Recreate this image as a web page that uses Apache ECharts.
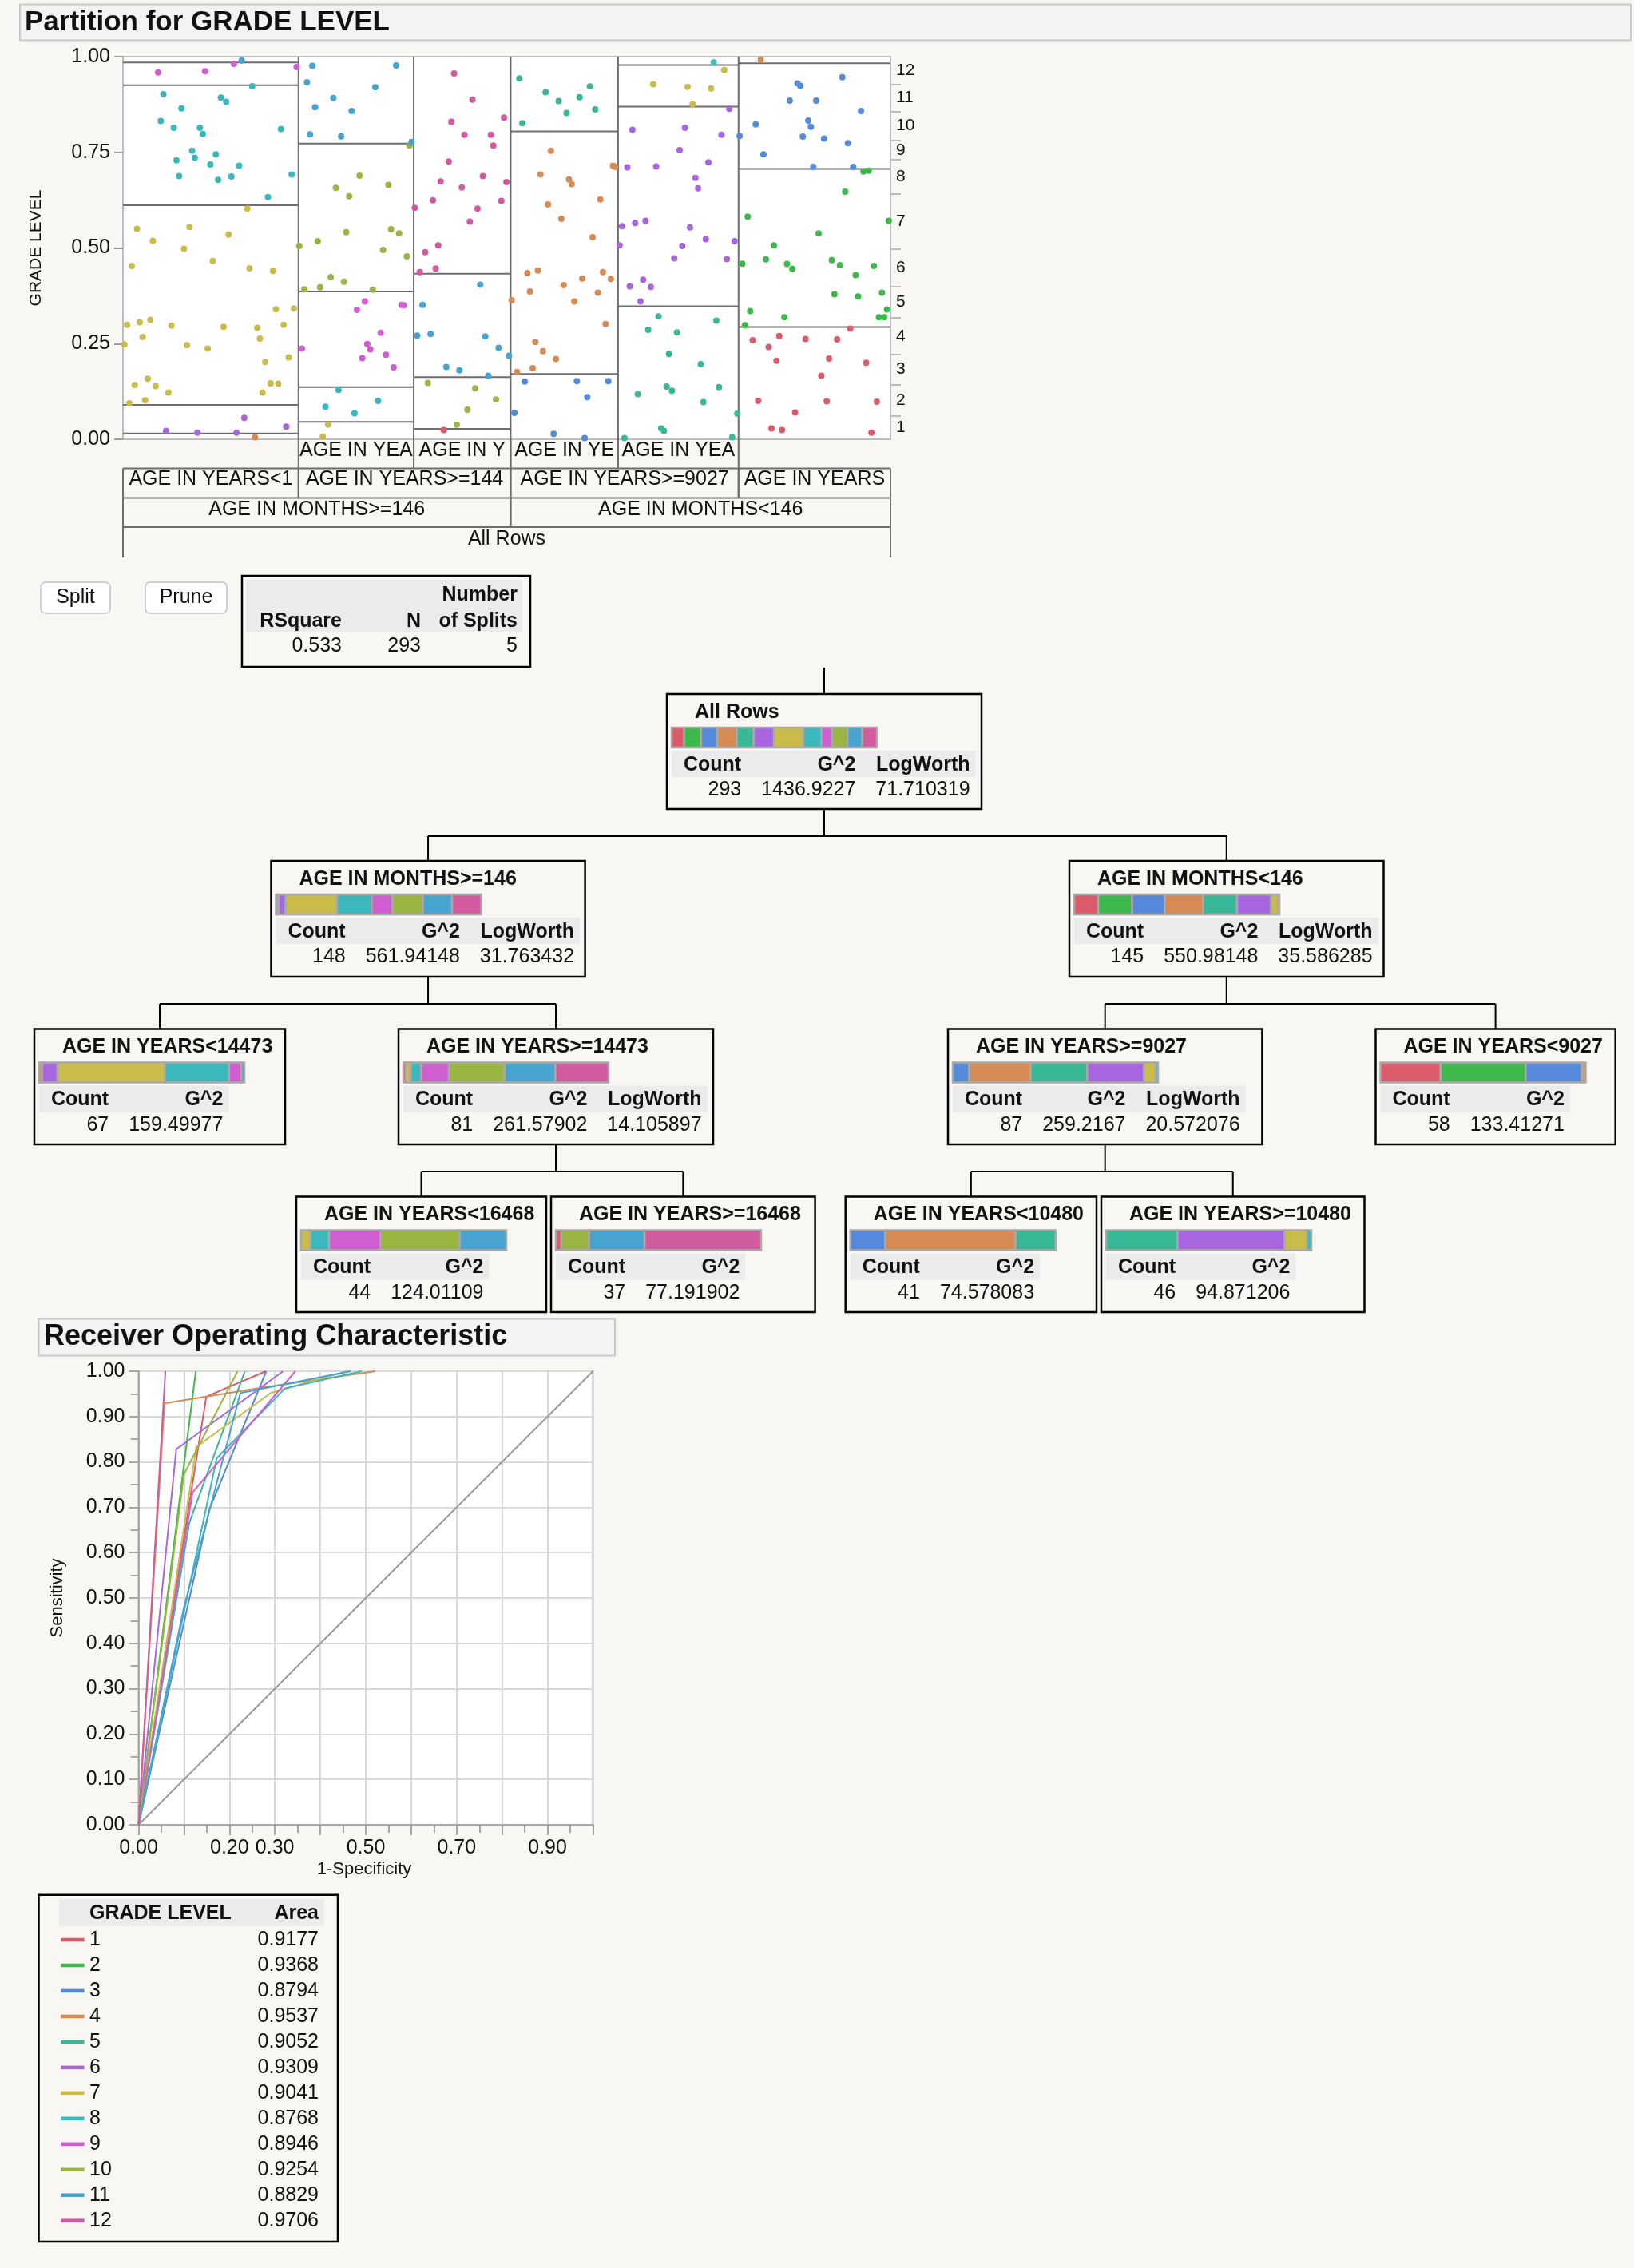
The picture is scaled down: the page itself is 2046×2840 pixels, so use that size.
<!DOCTYPE html>
<html><head><meta charset="utf-8">
<script src="https://cdn.jsdelivr.net/npm/echarts@6/dist/echarts.min.js"></script>
<style>html,body{margin:0;padding:0;background:#f8f7f3}#c{width:2046px;height:2840px}</style>
</head><body><div id="c"></div>
<script>
// ---------------- DATA ----------------
const gradeLabels = ['1','2','3','4','5','6','7','8','9','10','11','12'];
const gradeColors = ['#dc5b6b','#3cb94a','#5589dc','#d68b55','#39b898','#a766df','#c9bc4b','#3ab8bc','#cf5fd0','#9bb543','#47a3cf','#d25a9e'];

// leaves, left to right in the partition plot; counts per grade 1..12
const leafNames = ['AGE IN YEARS<14473','AGE IN YEARS<16468','AGE IN YEARS>=16468','AGE IN YEARS<10480','AGE IN YEARS>=10480','AGE IN YEARS<9027'];
const leaf1Counts = [0,0,0,1,0,5,35,21,4,0,1,0];
const leaf2Counts = [0,0,0,0,0,0,2,4,11,17,10,0];
const leaf3Counts = [1,0,0,0,0,0,0,0,0,5,10,21];
const leaf4Counts = [0,0,7,26,8,0,0,0,0,0,0,0];
const leaf5Counts = [0,0,0,0,16,24,5,1,0,0,0,0];
const leaf6Counts = [17,24,16,1,0,0,0,0,0,0,0,0];

// points: [grade, [[position across the leaf 0..1, GRADE LEVEL value], ...]]
const leaf1Points = [
 [11,[[0.676,0.990]]],
 [9,[[0.200,0.959],[0.468,0.962],[0.632,0.981],[0.989,0.973]]],
 [8,[[0.736,0.923],[0.230,0.902],[0.558,0.893],[0.588,0.882],[0.333,0.865],[0.215,0.832],[0.289,0.814],[0.438,0.814],[0.455,0.798],[0.900,0.811],[0.394,0.754],[0.409,0.736],[0.529,0.745],[0.305,0.729],[0.498,0.718],[0.662,0.715],[0.320,0.688],[0.542,0.678],[0.618,0.687],[0.961,0.692],[0.826,0.633]]],
 [7,[[0.708,0.603],[0.080,0.550],[0.379,0.555],[0.602,0.535],[0.170,0.519],[0.348,0.498],[0.050,0.453],[0.512,0.466],[0.721,0.447],[0.855,0.440],[0.871,0.340],[0.974,0.342],[0.023,0.299],[0.095,0.306],[0.156,0.312],[0.276,0.297],[0.573,0.294],[0.765,0.291],[0.915,0.299],[0.112,0.267],[0.008,0.248],[0.365,0.246],[0.483,0.237],[0.780,0.263],[0.944,0.214],[0.811,0.202],[0.067,0.142],[0.141,0.158],[0.186,0.139],[0.259,0.122],[0.795,0.122],[0.841,0.146],[0.885,0.145],[0.126,0.102],[0.036,0.094]]],
 [6,[[0.691,0.056],[0.930,0.033],[0.245,0.022],[0.424,0.017],[0.647,0.017]]],
 [4,[[0.752,0.005]]]
];
const leaf2Points = [
 [11,[[0.120,0.976],[0.847,0.977],[0.074,0.933],[0.667,0.920],[0.303,0.892],[0.144,0.868],[0.461,0.858],[0.100,0.797],[0.370,0.792],[0.981,0.777]]],
 [10,[[0.963,0.768],[0.530,0.689],[0.324,0.657],[0.780,0.665],[0.440,0.635],[0.414,0.541],[0.803,0.549],[0.873,0.538],[0.167,0.518],[0.007,0.505],[0.734,0.495],[0.940,0.478],[0.280,0.424],[0.394,0.412],[0.051,0.392],[0.188,0.397],[0.644,0.391]]],
 [9,[[0.576,0.360],[0.507,0.338],[0.894,0.351],[0.914,0.350],[0.713,0.278],[0.030,0.237],[0.597,0.249],[0.623,0.235],[0.759,0.221],[0.553,0.212],[0.826,0.188]]],
 [8,[[0.347,0.129],[0.234,0.085],[0.690,0.100],[0.486,0.068]]],
 [7,[[0.257,0.038],[0.211,0.007]]]
];
const leaf3Points = [
 [12,[[0.416,0.956],[0.606,0.888],[0.931,0.841],[0.388,0.830],[0.523,0.796],[0.796,0.796],[0.821,0.768],[0.361,0.726],[0.713,0.688],[0.278,0.674],[0.496,0.658],[0.956,0.672],[0.198,0.625],[0.011,0.605],[0.904,0.623],[0.658,0.603],[0.579,0.569],[0.253,0.507],[0.118,0.489],[0.226,0.446],[0.063,0.437]]],
 [11,[[0.686,0.404],[0.091,0.351],[0.036,0.271],[0.174,0.275],[0.738,0.269],[0.876,0.239],[0.983,0.218],[0.336,0.189],[0.471,0.180],[0.769,0.166]]],
 [10,[[0.146,0.147],[0.634,0.133],[0.848,0.104],[0.554,0.077],[0.444,0.038]]],
 [1,[[0.309,0.024]]]
];
const leaf4Points = [
 [5,[[0.081,0.943],[0.326,0.907],[0.447,0.884],[0.642,0.894],[0.738,0.922],[0.521,0.853],[0.788,0.862],[0.109,0.826]]],
 [4,[[0.375,0.754],[0.953,0.715],[0.973,0.712],[0.277,0.692],[0.543,0.679],[0.568,0.667],[0.835,0.627],[0.348,0.614],[0.472,0.576],[0.763,0.528],[0.156,0.434],[0.254,0.441],[0.859,0.437],[0.667,0.420],[0.933,0.419],[0.494,0.403],[0.180,0.386],[0.812,0.383],[0.010,0.363],[0.593,0.360],[0.884,0.301],[0.230,0.254],[0.301,0.230],[0.422,0.210],[0.205,0.186],[0.059,0.176]]],
 [3,[[0.131,0.151],[0.617,0.152],[0.909,0.152],[0.714,0.110],[0.035,0.069],[0.400,0.014],[0.689,0.003]]]
];
const leaf5Points = [
 [8,[[0.794,0.985]]],
 [7,[[0.881,0.965],[0.292,0.928],[0.577,0.921],[0.772,0.917],[0.619,0.876]]],
 [6,[[0.923,0.864],[0.119,0.809],[0.555,0.814],[0.858,0.796],[0.511,0.756],[0.077,0.711],[0.316,0.713],[0.750,0.724],[0.642,0.683],[0.664,0.656],[0.033,0.557],[0.142,0.565],[0.228,0.571],[0.597,0.554],[0.728,0.523],[0.967,0.518],[0.013,0.507],[0.533,0.505],[0.467,0.473],[0.903,0.471],[0.097,0.400],[0.208,0.417],[0.272,0.398],[0.186,0.360]]],
 [5,[[0.336,0.321],[0.816,0.310],[0.250,0.286],[0.489,0.279],[0.423,0.223],[0.686,0.196],[0.403,0.138],[0.447,0.127],[0.838,0.136],[0.164,0.118],[0.708,0.097],[0.989,0.067],[0.358,0.028],[0.381,0.022],[0.053,0.003],[0.947,0.005]]]
];
const leaf6Points = [
 [4,[[0.146,0.992]]],
 [3,[[0.683,0.946],[0.388,0.930],[0.407,0.924],[0.337,0.885],[0.511,0.885],[0.806,0.858],[0.113,0.823],[0.459,0.833],[0.476,0.817],[0.007,0.793],[0.423,0.791],[0.563,0.786],[0.720,0.774],[0.164,0.745],[0.492,0.712],[0.755,0.712]]],
 [2,[[0.822,0.700],[0.857,0.702],[0.702,0.647],[0.060,0.582],[0.989,0.571],[0.527,0.538],[0.233,0.507],[0.025,0.459],[0.180,0.470],[0.319,0.458],[0.354,0.445],[0.614,0.468],[0.667,0.455],[0.891,0.453],[0.771,0.429],[0.631,0.379],[0.787,0.373],[0.944,0.383],[0.076,0.335],[0.302,0.319],[0.924,0.319],[0.959,0.319],[0.977,0.339],[0.042,0.298]]],
 [1,[[0.735,0.289],[0.093,0.259],[0.268,0.270],[0.441,0.262],[0.649,0.261],[0.198,0.241],[0.596,0.211],[0.250,0.205],[0.840,0.200],[0.545,0.166],[0.129,0.100],[0.580,0.099],[0.910,0.098],[0.372,0.070],[0.217,0.028],[0.286,0.024],[0.875,0.017]]]
];

// split labels under the partition plot
const headerRow0 = ['AGE IN YEARS<16468','AGE IN YEARS>=16468','AGE IN YEARS<10480','AGE IN YEARS>=10480'];
const headerRow1 = ['AGE IN YEARS<14473','AGE IN YEARS>=14473','AGE IN YEARS>=9027','AGE IN YEARS<9027'];
const headerRow2 = ['AGE IN MONTHS>=146','AGE IN MONTHS<146'];
const headerRow3 = ['All Rows'];

// tree nodes
const nodeTitles = ['All Rows','AGE IN MONTHS>=146','AGE IN MONTHS<146','AGE IN YEARS<14473','AGE IN YEARS>=14473','AGE IN YEARS>=9027','AGE IN YEARS<9027','AGE IN YEARS<16468','AGE IN YEARS>=16468','AGE IN YEARS<10480','AGE IN YEARS>=10480'];
const nodeCounts = [293,148,145,67,81,87,58,44,37,41,46];
const nodeG2 = ['1436.9227','561.94148','550.98148','159.49977','261.57902','259.2167','133.41271','124.01109','77.191902','74.578083','94.871206'];
const nodeLogWorth = ['71.710319','31.763432','35.586285','','14.105897','20.572076','','','','',''];
const nodeLeaves = [[0,1,2,3,4,5],[0,1,2],[3,4,5],[0],[1,2],[3,4],[5],[1],[2],[3],[4]];
const nodeParent = [-1,0,0,1,1,2,2,4,4,5,5];

// fit summary
const summaryRSquare = '0.533';
const summaryN = '293';
const summarySplits = '5';

// ROC curves [1-Specificity, Sensitivity] per grade (up to where each reaches 1)
const rocCurves = [
 [[0,0],[0.149,0.944],[0.280,1]],
 [[0,0],[0.126,1]],
 [[0,0],[0.156,0.696],[0.281,1]],
 [[0,0],[0.057,0.929],[0.272,0.964],[0.521,1]],
 [[0,0],[0.112,0.667],[0.234,1]],
 [[0,0],[0.083,0.828],[0.318,1]],
 [[0,0],[0.127,0.833],[0.291,0.952],[0.458,1]],
 [[0,0],[0.172,0.808],[0.322,0.962],[0.491,1]],
 [[0,0],[0.119,0.733],[0.345,1]],
 [[0,0],[0.100,0.773],[0.218,1]],
 [[0,0],[0.099,0.476],[0.224,0.952],[0.467,1]],
 [[0,0],[0.059,1]]
];
const rocDiagonal = [[0,0],[1,1]];
const rocXLabels = [0,0.2,0.3,0.5,0.7,0.9];
const aucValues = ['0.9177','0.9368','0.8794','0.9537','0.9052','0.9309','0.9041','0.8768','0.8946','0.9254','0.8829','0.9706'];

// ---------------- LAYOUT ----------------
const FONT = '"Liberation Sans", Arial, Helvetica, sans-serif';
const TXT = '#111';
const leafCounts = [leaf1Counts,leaf2Counts,leaf3Counts,leaf4Counts,leaf5Counts,leaf6Counts];
const leafPoints = [leaf1Points,leaf2Points,leaf3Points,leaf4Points,leaf5Points,leaf6Points];
const leafSizes = leafCounts.map(a => a.reduce((s,v)=>s+v,0));
const leafStarts = []; { let c=0; leafSizes.forEach(s=>{leafStarts.push(c); c+=s;}); }
const totalN = leafSizes.reduce((s,v)=>s+v,0);
const gradeTotals = gradeLabels.map((g,k)=>leafCounts.reduce((s,a)=>s+a[k],0));
const gradeBounds = [], gradeMids = [];
{ let c=0; gradeTotals.forEach((t,k)=>{ const a=c/totalN; c+=t; const b=c/totalN; gradeMids.push((a+b)/2); if(k<gradeTotals.length-1) gradeBounds.push(b); }); }

const nodeBoxes = [
 [835,869,1229,1013],
 [339.5,1078,732.6,1223],
 [1339,1078,1732.5,1223],
 [43,1288.5,357,1433],
 [499,1288.5,893,1433],
 [1187,1288.5,1580.4,1433],
 [1722.5,1288.5,2022.7,1433],
 [371,1498.5,684,1643],
 [690,1498.5,1020.6,1643],
 [1058.7,1498.5,1373,1643],
 [1379,1498.5,1708.5,1643]
];

const mctx = document.createElement('canvas').getContext('2d');
function tw(t, bold){ mctx.font = (bold?'bold ':'') + '25px ' + FONT; return mctx.measureText(t).width; }
function fitText(t, w){ let s = t; while(s.length>1 && tw(s,false) > w) s = s.slice(0,-1); return s; }

const G = [];
function gRect(x1,y1,x2,y2,fill,stroke,lw,r){ G.push({type:'rect', silent:true, shape:{x:x1,y:y1,width:x2-x1,height:y2-y1,r:r||0}, style:{fill:fill||'transparent', stroke:stroke||null, lineWidth:lw||0}}); }
function gLine(x1,y1,x2,y2,stroke,lw){ G.push({type:'line', silent:true, shape:{x1:x1,y1:y1,x2:x2,y2:y2}, style:{stroke:stroke, lineWidth:lw}}); }
function gText(t,x,y,size,bold,align,rot){ G.push({type:'text', silent:true, x:x, y:y, rotation:rot||0, style:{text:t, fontSize:size, fontFamily:FONT, fontWeight:bold?'bold':'normal', fill:TXT, align:align||'left', verticalAlign:'middle', textAlign:align||'left', textVerticalAlign:'middle'}}); }

// title bars
gRect(25,5.5,2042,50.5,'#f3f3f3','#c9c9c9',2);
gText('Partition for GRADE LEVEL',31,28.5,35,true,'left');
gText('GRADE LEVEL',45.5,310.5,21,false,'center',Math.PI/2);

// buttons
gRect(51,729,138,768,'#ffffff','#c4c4c4',1.5,6);
gText('Split',94.5,748.5,25,false,'center');
gRect(182,729,284,768,'#ffffff','#c4c4c4',1.5,6);
gText('Prune',233,748.5,25,false,'center');

// summary table
gRect(303,721,664,835,'transparent','#000',2.5);
gRect(308,726,654,792,'#ebebeb');
gText('Number',648,745,25,true,'right');
gText('RSquare',428,778,25,true,'right');
gText('N',527,778,25,true,'right');
gText('of Splits',648,778,25,true,'right');
gText(summaryRSquare,428,809,25,false,'right');
gText(summaryN,527,809,25,false,'right');
gText(summarySplits,648,809,25,false,'right');

// tree connectors
const cx = b => (b[0]+b[2])/2;
gLine(cx(nodeBoxes[0]),836,cx(nodeBoxes[0]),869,'#000',2);
nodeBoxes.forEach((b,i)=>{
  const kids = nodeParent.map((p,j)=>p===i?j:-1).filter(j=>j>=0);
  if(!kids.length) return;
  const midY = b[3]+34;
  gLine(cx(b),b[3],cx(b),midY,'#000',2);
  const xs = kids.map(k=>cx(nodeBoxes[k]));
  gLine(Math.min(...xs),midY,Math.max(...xs),midY,'#000',2);
  kids.forEach(k=>gLine(cx(nodeBoxes[k]),midY,cx(nodeBoxes[k]),nodeBoxes[k][1],'#000',2));
});
// tree nodes
nodeBoxes.forEach((b,i)=>{
  gRect(b[0],b[1],b[2],b[3],'transparent','#000',2.5);
  gText(nodeTitles[i],b[0]+35,b[1]+23,25,true,'left');
  const heads = nodeLogWorth[i] ? ['Count','G^2','LogWorth'] : ['Count','G^2'];
  const vals = [String(nodeCounts[i]), nodeG2[i], nodeLogWorth[i]];
  let x = b[0]+6; const rights=[];
  heads.forEach((h,j)=>{ x += Math.max(tw(h,true), tw(vals[j],false)) + (j===0?15:25); rights.push(x); });
  gRect(b[0]+6,b[1]+71,x+7,b[1]+104,'#ebebeb');
  heads.forEach((h,j)=>{ gText(h,rights[j],b[1]+89,25,true,'right'); gText(vals[j],rights[j],b[1]+120.5,25,false,'right'); });
});

// ROC titles
gRect(48.5,1651.5,770,1697.4,'#f3f3f3','#c9c9c9',2);
gText('Receiver Operating Characteristic',55,1674.5,36,true,'left');
gText('Sensitivity',71.5,2001,22,false,'center',Math.PI/2);
gText('1-Specificity',456,2340.5,22,false,'center');

// AUC table
gRect(48.5,2372.7,423,2807,'transparent','#000',2.5);
gRect(74,2378,405.6,2411.6,'#ebebeb');
gText('GRADE LEVEL',112,2396,25,true,'left');
gText('Area',399,2396,25,true,'right');
gradeLabels.forEach((g,i)=>{
  const y = 2429 + i*31.97;
  gLine(76,y,105.6,y,gradeColors[i],4.5);
  gText(g,112,y,25,false,'left');
  gText(aucValues[i],399,y,25,false,'right');
});

// ---------------- ECHARTS ----------------
const grids = [
  {left:154, top:71, width:961, height:479, show:true, backgroundColor:'#ffffff', borderColor:'#bdbdbd', borderWidth:2},
  {left:173.5, top:1717, width:569, height:568, show:true, backgroundColor:'#ffffff', borderColor:'#a8a8a8', borderWidth:2}
];
const xAxes = [
  {gridIndex:0, type:'value', min:0, max:totalN, show:false},
  {gridIndex:1, type:'value', min:0, max:1, interval:0.1,
   axisLine:{show:true, lineStyle:{color:'#a8a8a8', width:2}},
   axisTick:{show:true, length:13, lineStyle:{color:'#a8a8a8', width:2}},
   minorTick:{show:true, splitNumber:2, length:10, lineStyle:{color:'#a8a8a8', width:2}},
   axisLabel:{customValues:rocXLabels, formatter:v=>v.toFixed(2), fontSize:25, fontFamily:FONT, color:TXT, margin:17},
   splitLine:{show:true, lineStyle:{color:'#d9d9d9', width:2}}}
];
const yAxes = [
  {gridIndex:0, type:'value', min:0, max:1, interval:0.25, position:'left',
   axisLine:{show:true, lineStyle:{color:'#bdbdbd', width:2}},
   axisTick:{show:true, length:11, lineStyle:{color:'#9a9a9a', width:2}},
   axisLabel:{fontSize:25, fontFamily:FONT, color:TXT, margin:16, formatter:v=>v.toFixed(2)},
   splitLine:{show:false}},
  {gridIndex:0, type:'value', min:0, max:1, position:'right',
   axisLine:{show:true, lineStyle:{color:'#bdbdbd', width:2}},
   axisTick:{show:true, length:13, customValues:gradeBounds, lineStyle:{color:'#bdbdbd', width:2}},
   axisLabel:{show:true, customValues:gradeMids, fontSize:21, fontFamily:FONT, color:TXT, margin:7,
     formatter:v=>{ let best=0; gradeMids.forEach((m,i)=>{ if(Math.abs(m-v)<Math.abs(gradeMids[best]-v)) best=i; }); return gradeLabels[best]; }},
   splitLine:{show:false}},
  {gridIndex:1, type:'value', min:0, max:1, interval:0.1,
   axisLine:{show:true, lineStyle:{color:'#a8a8a8', width:2}},
   axisTick:{show:true, length:12, lineStyle:{color:'#a8a8a8', width:2}},
   minorTick:{show:true, splitNumber:2, length:10, lineStyle:{color:'#a8a8a8', width:2}},
   axisLabel:{fontSize:25, fontFamily:FONT, color:TXT, margin:17, formatter:v=>v.toFixed(2)},
   splitLine:{show:true, lineStyle:{color:'#d9d9d9', width:2}}}
];
const series = [];

// partition split lines
const splitSegs = [];
leafCounts.forEach((cnt,i)=>{
  const s = leafStarts[i], e = s + leafSizes[i];
  let c = 0;
  cnt.forEach(v=>{ if(v>0){ c+=v; if(c<leafSizes[i]) splitSegs.push([s, c/leafSizes[i], e, c/leafSizes[i]]); } });
  if(i>0) splitSegs.push([s,0,s,1]);
});
series.push({type:'custom', xAxisIndex:0, yAxisIndex:0, silent:true, z:1, clip:false, data:splitSegs,
  encode:{x:[0,2], y:[1,3]},
  renderItem:(p,api)=>{ const a=api.coord([api.value(0),api.value(1)]), b=api.coord([api.value(2),api.value(3)]);
    return {type:'line', shape:{x1:a[0],y1:a[1],x2:b[0],y2:b[1]}, style:{stroke:'#6e6e6e', lineWidth:2}}; }});

// partition points
gradeLabels.forEach((g,k)=>{
  const data = [];
  leafPoints.forEach((lp,i)=>lp.forEach(grp=>{ if(grp[0]===k+1) grp[1].forEach(pt=>data.push([leafStarts[i]+pt[0]*leafSizes[i], pt[1]])); }));
  series.push({type:'scatter', name:g, xAxisIndex:0, yAxisIndex:0, z:3, silent:true, symbolSize:8, data:data, itemStyle:{color:gradeColors[k], opacity:1}});
});

// header labels under the plot
const headerLabels = [], headerData = [];
const addHeader = (l0,l1,row,label)=>{ headerLabels.push(label); headerData.push([leafStarts[l0], leafStarts[l1]+leafSizes[l1], 0, row, headerLabels.length-1]); };
headerRow0.forEach((t,i)=>addHeader(i+1,i+1,0,t));
[[0,0],[1,2],[3,4],[5,5]].forEach((sp,i)=>addHeader(sp[0],sp[1],1,headerRow1[i]));
[[0,2],[3,5]].forEach((sp,i)=>addHeader(sp[0],sp[1],2,headerRow2[i]));
addHeader(0,5,3,headerRow3[0]);
const rowOff = [0,36.5,73.5,110,148], rowTextOff = [14,50.5,88,125], rowPad = [-2,8,8,8];
series.push({type:'custom', xAxisIndex:0, yAxisIndex:0, silent:true, clip:false, z:2, data:headerData,
  encode:{x:[0,1], y:2},
  renderItem:(p,api)=>{
    const L=api.coord([api.value(0),0]), R=api.coord([api.value(1),0]);
    const row=api.value(3), li=api.value(4), base=L[1];
    const top=base+rowOff[row], bot=base+rowOff[row+1];
    const st={stroke:'#6e6e6e', lineWidth:2};
    const ch=[{type:'line',shape:{x1:L[0],y1:top,x2:L[0],y2:bot},style:st},{type:'line',shape:{x1:R[0],y1:top,x2:R[0],y2:bot},style:st}];
    if(row>0) ch.push({type:'line',shape:{x1:L[0],y1:top,x2:R[0],y2:top},style:st});
    ch.push({type:'text', x:(L[0]+R[0])/2, y:base+rowTextOff[row], style:{text:fitText(headerLabels[li], R[0]-L[0]-rowPad[row]), fontSize:25, fontFamily:FONT, fill:TXT, align:'center', verticalAlign:'middle'}});
    return {type:'group', children:ch};
  }});

// node composition bars
nodeBoxes.forEach((b,i)=>{
  const gi = grids.length;
  grids.push({left:b[0]+6, top:b[1]+42, width:257, height:25, show:false});
  const counts = gradeLabels.map((g,k)=>nodeLeaves[i].reduce((s,l)=>s+leafCounts[l][k],0));
  const tot = counts.reduce((s,v)=>s+v,0);
  xAxes.push({gridIndex:gi, type:'value', min:0, max:tot, show:false});
  yAxes.push({gridIndex:gi, type:'value', min:0, max:1, show:false});
  const segs=[]; let c=0;
  counts.forEach((v,k)=>{ if(v>0){ segs.push([c,c+v,0.5,k]); c+=v; } });
  series.push({type:'custom', xAxisIndex:gi, yAxisIndex:yAxes.length-1, silent:true, clip:false, data:segs,
    encode:{x:[0,1], y:2},
    renderItem:(p,api)=>{ const a=api.coord([api.value(0),1]), d=api.coord([api.value(1),0]);
      return {type:'rect', shape:{x:a[0], y:a[1], width:d[0]-a[0], height:d[1]-a[1]}, style:{fill:gradeColors[api.value(3)], stroke:'#a9a9a9', lineWidth:2.5}}; }});
});

// ROC
series.push({type:'line', xAxisIndex:1, yAxisIndex:2, data:rocDiagonal, symbol:'none', silent:true, z:2, lineStyle:{color:'#9a9a9a', width:2}});
rocCurves.forEach((pts,k)=>series.push({type:'line', name:'ROC '+gradeLabels[k], xAxisIndex:1, yAxisIndex:2, data:pts, symbol:'none', silent:true, z:3,
  lineStyle:{color:gradeColors[k], width:2}, itemStyle:{color:gradeColors[k]}}));

const chart = echarts.init(document.getElementById('c'), null, {renderer:'canvas', width:2046, height:2840});
chart.setOption({
  animation:false,
  backgroundColor:'#f8f7f3',
  textStyle:{fontFamily:FONT},
  grid:grids, xAxis:xAxes, yAxis:yAxes, series:series,
  graphic:{elements:G}
});
</script>
</body></html>
